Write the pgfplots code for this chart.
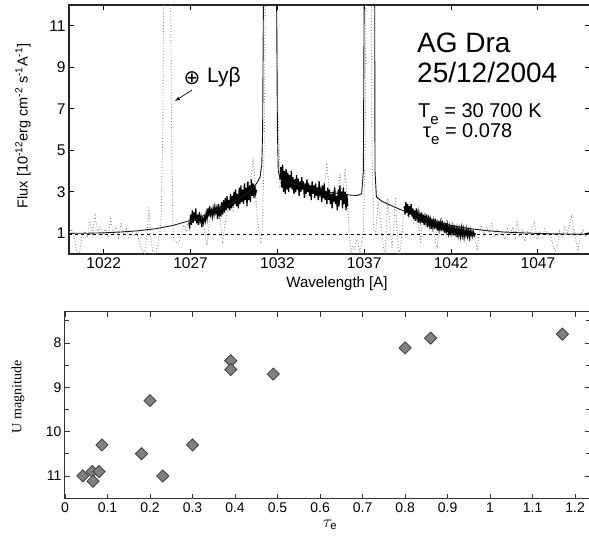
\documentclass[border=0pt]{standalone}
\usepackage{fontspec}
\setmainfont{Liberation Sans}
\newfontfamily\seriffont{Liberation Serif}
\newfontfamily\dejavu{DejaVu Sans}
\usepackage{pgfplots}
\pgfplotsset{compat=1.18}
\pgfplotstableread[row sep=\\]{
x y\\
1020.0 1.0\\ 1020.15 1.2\\ 1020.3 0.8\\ 1020.45 0.1\\ 1020.6 0.05\\ 1020.75 0.9\\ 1020.9 1.1\\ 1021.05 0.8\\ 1021.2 1.6\\ 1021.35 1.0\\
1021.5 1.85\\ 1021.65 1.1\\ 1021.8 1.3\\ 1021.95 0.9\\ 1022.1 1.2\\ 1022.25 0.8\\ 1022.4 1.7\\ 1022.55 1.0\\ 1022.7 1.3\\ 1022.85 0.8\\
1023.0 1.5\\ 1023.15 0.9\\ 1023.3 1.2\\ 1023.45 0.8\\ 1023.6 1.1\\ 1023.75 0.9\\ 1023.9 1.0\\ 1024.05 0.6\\ 1024.2 0.2\\ 1024.35 0.0\\
1024.5 0.9\\ 1024.6 2.25\\ 1024.7 0.8\\ 1024.85 0.0\\ 1025.0 0.0\\ 1025.15 0.6\\ 1025.3 1.5\\ 1025.4 6.0\\ 1025.45 13\\ 1025.85 13\\
1025.9 6\\ 1026.0 0.8\\ 1026.15 0.6\\ 1026.3 0.5\\ 1026.45 0.9\\ 1026.6 1.4\\ 1026.75 1.1\\ 1026.9 1.7\\ 1027.05 1.5\\ 1027.2 1.9\\
1027.35 1.4\\ 1027.5 2.0\\ 1027.65 1.6\\ 1027.8 1.2\\ 1027.95 0.4\\ 1028.1 1.6\\ 1028.25 2.1\\ 1028.4 1.9\\ 1028.55 2.3\\ 1028.7 1.7\\
1028.85 0.6\\ 1029.0 1.5\\ 1029.15 2.2\\ 1029.3 2.5\\ 1029.45 2.1\\ 1029.6 2.8\\ 1029.75 2.4\\ 1029.9 3.0\\ 1030.05 2.6\\ 1030.2 3.4\\
1030.35 2.9\\ 1030.5 3.9\\ 1030.6 4.6\\ 1030.7 3.5\\ 1030.8 2.2\\ 1030.9 1.3\\ 1031.0 0.8\\ 1031.05 0.6\\ 1031.15 1.5\\ 1031.25 6\\
1031.3 13\\ 1031.95 13\\ 1032.0 7.7\\ 1032.1 5.2\\ 1032.15 3.3\\ 1032.3 3.8\\ 1032.45 3.0\\ 1032.6 4.0\\ 1032.75 3.2\\ 1032.9 3.6\\
1033.05 2.9\\ 1033.2 3.7\\ 1033.35 3.1\\ 1033.5 3.5\\ 1033.65 2.8\\ 1033.8 3.4\\ 1033.95 2.7\\ 1034.1 3.3\\ 1034.25 2.9\\ 1034.4 3.5\\
1034.55 2.6\\ 1034.7 3.3\\ 1034.85 4.3\\ 1035.0 3.0\\ 1035.15 2.5\\ 1035.3 3.2\\ 1035.45 2.4\\ 1035.6 3.9\\ 1035.75 2.7\\ 1035.9 4.1\\
1036.05 2.3\\ 1036.15 0.8\\ 1036.25 0.1\\ 1036.35 0.4\\ 1036.45 0.2\\ 1036.55 0.7\\ 1036.65 0.5\\ 1036.75 0.1\\ 1036.85 0.6\\ 1036.95 1.2\\
1037.05 5\\ 1037.1 13\\ 1037.4 13\\ 1037.45 5\\ 1037.55 1.2\\ 1037.65 0.9\\ 1037.8 2.5\\ 1037.95 1.6\\ 1038.1 0.3\\ 1038.2 0.0\\
1038.35 2.7\\ 1038.5 1.2\\ 1038.6 0.3\\ 1038.7 1.4\\ 1038.8 2.75\\ 1038.9 1.0\\ 1039.0 0.0\\ 1039.1 0.3\\ 1039.25 1.8\\ 1039.4 2.3\\
1039.55 1.7\\ 1039.7 2.2\\ 1039.85 1.5\\ 1040.0 2.0\\ 1040.15 1.2\\ 1040.25 0.5\\ 1040.35 1.7\\ 1040.5 1.9\\ 1040.65 1.3\\ 1040.8 1.8\\
1040.95 1.2\\ 1041.1 0.6\\ 1041.2 0.25\\ 1041.3 1.4\\ 1041.45 1.7\\ 1041.6 1.1\\ 1041.75 1.6\\ 1041.9 1.0\\ 1042.05 1.5\\ 1042.2 0.9\\
1042.35 1.4\\ 1042.5 0.8\\ 1042.65 1.3\\ 1042.8 1.0\\ 1042.95 1.2\\ 1043.1 0.7\\ 1043.25 1.1\\ 1043.4 0.6\\ 1043.5 0.25\\ 1043.6 0.9\\
1043.75 1.4\\ 1043.9 0.9\\ 1044.05 1.3\\ 1044.2 1.0\\ 1044.35 1.5\\ 1044.5 0.8\\ 1044.65 1.2\\ 1044.8 0.9\\ 1044.95 1.1\\ 1045.1 0.7\\
1045.25 1.2\\ 1045.4 0.9\\ 1045.55 1.3\\ 1045.7 0.8\\ 1045.8 1.6\\ 1045.95 0.9\\ 1046.1 1.2\\ 1046.25 0.6\\ 1046.4 1.1\\ 1046.55 0.9\\
1046.7 1.3\\ 1046.8 1.6\\ 1046.95 0.7\\ 1047.1 1.1\\ 1047.25 0.8\\ 1047.4 1.2\\ 1047.55 0.9\\ 1047.7 1.0\\ 1047.85 0.5\\ 1048.0 0.15\\
1048.1 0.3\\ 1048.25 1.1\\ 1048.4 0.8\\ 1048.55 1.3\\ 1048.7 1.0\\ 1048.85 1.5\\ 1048.95 1.9\\ 1049.05 1.2\\ 1049.2 0.6\\ 1049.3 0.15\\
1049.45 0.9\\ 1049.6 1.2\\ 1049.75 0.8\\ 1049.9 1.1\\ 1050 0.9\\
}\observed
\pgfplotstableread[row sep=\\]{
x y\\
1026.90 1.5\\ 1026.95 1.3\\ 1027.00 1.9\\ 1027.05 1.4\\ 1027.10 2.1\\ 1027.15 1.5\\ 1027.20 2.0\\ 1027.25 1.6\\ 1027.30 2.2\\ 1027.35 1.5\\
1027.40 1.9\\ 1027.45 1.4\\ 1027.50 2.0\\ 1027.55 1.6\\ 1027.60 1.8\\ 1027.65 1.3\\ 1027.70 1.7\\ 1027.75 1.5\\ 1027.80 1.8\\ 1027.85 1.6\\
1027.90 2.0\\ 1027.95 1.7\\ 1028.00 2.2\\ 1028.05 1.8\\ 1028.10 2.3\\ 1028.15 1.9\\ 1028.20 2.1\\ 1028.25 1.8\\ 1028.30 2.2\\ 1028.35 1.9\\
1028.40 2.3\\ 1028.45 2.0\\ 1028.50 2.2\\ 1028.55 1.7\\ 1028.60 2.4\\ 1028.65 1.9\\ 1028.70 2.2\\ 1028.75 1.8\\ 1028.80 2.5\\ 1028.85 1.9\\
1028.90 2.6\\ 1028.95 2.0\\ 1029.00 2.7\\ 1029.05 2.1\\ 1029.10 2.8\\ 1029.15 2.2\\ 1029.20 2.6\\ 1029.25 2.1\\ 1029.30 2.9\\ 1029.35 2.2\\
1029.40 2.8\\ 1029.45 2.3\\ 1029.50 3.0\\ 1029.55 2.4\\ 1029.60 3.1\\ 1029.65 2.3\\ 1029.70 2.9\\ 1029.75 2.2\\ 1029.80 3.2\\ 1029.85 2.4\\
1029.90 3.3\\ 1029.95 2.5\\ 1030.00 3.1\\ 1030.05 2.4\\ 1030.10 3.4\\ 1030.15 2.6\\ 1030.20 3.2\\ 1030.25 2.3\\ 1030.30 3.5\\ 1030.35 2.6\\
1030.40 3.3\\ 1030.45 2.5\\ 1030.50 3.6\\ 1030.55 2.8\\ 1030.60 3.4\\ 1030.65 2.7\\ 1030.70 3.3\\ 1030.75 2.9\\ 1030.80 3.1\\
}\fitA
\pgfplotstableread[row sep=\\]{
x y\\
1032.15 3.6\\ 1032.20 4.2\\ 1032.25 3.2\\ 1032.30 4.3\\ 1032.35 3.0\\ 1032.40 4.0\\ 1032.45 2.9\\ 1032.50 4.1\\ 1032.55 3.1\\ 1032.60 3.9\\
1032.65 3.0\\ 1032.70 3.8\\ 1032.75 3.2\\ 1032.80 4.0\\ 1032.85 3.1\\ 1032.90 3.7\\ 1032.95 2.9\\ 1033.00 3.6\\ 1033.05 3.0\\ 1033.10 3.8\\
1033.15 3.1\\ 1033.20 3.6\\ 1033.25 2.8\\ 1033.30 3.5\\ 1033.35 3.0\\ 1033.40 3.7\\ 1033.45 3.1\\ 1033.50 3.5\\ 1033.55 2.7\\ 1033.60 3.4\\
1033.65 2.9\\ 1033.70 3.6\\ 1033.75 3.0\\ 1033.80 3.4\\ 1033.85 2.8\\ 1033.90 3.3\\ 1033.95 2.6\\ 1034.00 3.5\\ 1034.05 2.9\\ 1034.10 3.3\\
1034.15 2.7\\ 1034.20 3.4\\ 1034.25 2.8\\ 1034.30 3.2\\ 1034.35 2.6\\ 1034.40 3.5\\ 1034.45 2.9\\ 1034.50 3.1\\ 1034.55 2.5\\ 1034.60 3.3\\
1034.65 2.7\\ 1034.70 3.4\\ 1034.75 2.6\\ 1034.80 3.0\\ 1034.85 2.4\\ 1034.90 3.2\\ 1034.95 2.6\\ 1035.00 3.1\\ 1035.05 2.4\\ 1035.10 2.9\\
1035.15 2.2\\ 1035.20 3.0\\ 1035.25 2.5\\ 1035.30 3.2\\ 1035.35 2.4\\ 1035.40 2.8\\ 1035.45 2.1\\ 1035.50 3.1\\ 1035.55 2.3\\ 1035.60 3.3\\
1035.65 2.6\\ 1035.70 3.0\\ 1035.75 2.2\\ 1035.80 3.2\\ 1035.85 2.4\\ 1035.90 3.0\\ 1035.95 2.1\\ 1036.00 2.9\\ 1036.05 2.3\\
}\fitB
\pgfplotstableread[row sep=\\]{
x y\\
1039.30 2.3\\ 1039.35 1.9\\ 1039.40 2.5\\ 1039.45 2.0\\ 1039.50 2.4\\ 1039.55 1.8\\ 1039.60 2.3\\ 1039.65 1.9\\ 1039.70 2.4\\ 1039.75 1.8\\
1039.80 2.2\\ 1039.85 1.7\\ 1039.90 2.1\\ 1039.95 1.6\\ 1040.00 2.2\\ 1040.05 1.7\\ 1040.10 2.0\\ 1040.15 1.5\\ 1040.20 1.9\\ 1040.25 1.6\\
1040.30 2.0\\ 1040.35 1.5\\ 1040.40 1.9\\ 1040.45 1.4\\ 1040.50 1.8\\ 1040.55 1.5\\ 1040.60 1.9\\ 1040.65 1.3\\ 1040.70 1.7\\ 1040.75 1.4\\
1040.80 1.8\\ 1040.85 1.2\\ 1040.90 1.7\\ 1040.95 1.3\\ 1041.00 1.6\\ 1041.05 1.2\\ 1041.10 1.7\\ 1041.15 1.3\\ 1041.20 1.5\\ 1041.25 1.1\\
1041.30 1.6\\ 1041.35 1.2\\ 1041.40 1.5\\ 1041.45 1.1\\ 1041.50 1.6\\ 1041.55 1.2\\ 1041.60 1.4\\ 1041.65 1.0\\ 1041.70 1.5\\ 1041.75 1.1\\
1041.80 1.4\\ 1041.85 1.0\\ 1041.90 1.3\\ 1041.95 0.9\\ 1042.00 1.4\\ 1042.05 1.0\\ 1042.10 1.3\\ 1042.15 0.9\\ 1042.20 1.4\\ 1042.25 1.0\\
1042.30 1.2\\ 1042.35 0.8\\ 1042.40 1.3\\ 1042.45 0.9\\ 1042.50 1.2\\ 1042.55 0.85\\ 1042.60 1.25\\ 1042.65 0.9\\ 1042.70 1.2\\ 1042.75 0.8\\
1042.80 1.15\\ 1042.85 0.9\\ 1042.90 1.2\\ 1042.95 0.85\\ 1043.00 1.1\\ 1043.05 0.8\\ 1043.10 1.15\\ 1043.15 0.9\\ 1043.20 1.1\\ 1043.25 0.85\\
1043.30 1.05\\ 1043.35 0.9\\ 1043.40 1.0\\
}\fitC
\pgfplotstableread[row sep=\\]{
x y\\
1020 1.0\\ 1021 1.0\\ 1022 1.02\\ 1023 1.06\\ 1024 1.12\\ 1025 1.22\\ 1026 1.38\\ 1027 1.62\\ 1028 1.92\\ 1029 2.28\\
1029.5 2.5\\ 1030 2.78\\ 1030.5 3.1\\ 1030.8 3.4\\ 1031.0 3.7\\ 1031.1 4.3\\ 1031.15 6\\ 1031.2 13\\ 1031.95 13\\ 1032.0 6\\
1032.05 4.0\\ 1032.15 3.65\\ 1032.5 3.5\\ 1033 3.35\\ 1034 3.15\\ 1035 2.98\\ 1036 2.85\\ 1036.6 2.82\\ 1036.85 2.9\\ 1036.95 4\\
1037.0 13\\ 1037.6 13\\ 1037.62 4\\ 1037.7 2.75\\ 1038 2.55\\ 1038.5 2.35\\ 1039 2.17\\ 1039.5 2.0\\ 1040 1.85\\ 1041 1.58\\
1042 1.38\\ 1043 1.23\\ 1044 1.13\\ 1045 1.06\\ 1046 1.02\\ 1047 0.99\\ 1048 0.97\\ 1050 0.95\\
}\model
\pgfplotstableread[row sep=\\]{
tau U\\
0.042 11.0\\ 0.064 10.9\\ 0.066 11.12\\ 0.08 10.9\\ 0.087 10.3\\ 0.18 10.5\\ 0.20 9.3\\ 0.23 11.0\\ 0.30 10.3\\
0.39 8.4\\ 0.39 8.6\\ 0.49 8.7\\ 0.80 8.11\\ 0.86 7.89\\ 1.17 7.8\\
}\umag
\begin{document}
\begin{tikzpicture}
\useasboundingbox (0pt,0pt) rectangle (589pt,545pt);
\begin{axis}[
  at={(69pt,291pt)}, anchor=south west,
  scale only axis, width=521pt, height=249pt,
  xmin=1020, xmax=1050, ymin=0, ymax=12,
  xtick={1022,1027,1032,1037,1042,1047}, ytick={1,3,5,7,9,11},
  tick align=inside, major tick length=5pt,
  tick style={line width=1pt, black},
  axis line style={line width=1.3pt, black!85},
  ticklabel style={font=\fontsize{15.5}{15.5}\selectfont},
  /pgf/number format/assume math mode=true,
  /pgf/number format/1000 sep={},
]
\addplot[black!45, dotted, line width=0.9pt] table[x=x,y=y] {\observed};
\addplot[black, line width=1.2pt] table[x=x,y=y] {\fitA};
\addplot[black, line width=1.2pt] table[x=x,y=y] {\fitB};
\addplot[black, line width=1.2pt] table[x=x,y=y] {\fitC};
\addplot[black, dashed, line width=0.6pt] coordinates {(1020,0.95) (1050,0.95)};
\addplot[black!90, line width=0.9pt] table[x=x,y=y] {\model};
\end{axis}
\node[rotate=90] at (23pt,419pt) {\fontsize{14.5}{14.5}\selectfont Flux [10\textsuperscript{-12}erg cm\textsuperscript{-2} s\textsuperscript{-1}A\textsuperscript{-1}]};
\node at (337pt,261pt) {\fontsize{15}{15}\selectfont Wavelength [A]};
\node[anchor=base west, inner sep=0pt] at (417pt,492pt) {\fontsize{28}{28}\selectfont AG Dra};
\node[anchor=base west, inner sep=0pt] at (417pt,462pt) {\fontsize{28}{28}\selectfont 25/12/2004};
\node[anchor=base west, inner sep=0pt] at (418pt,427pt) {\fontsize{20}{20}\selectfont T\raisebox{-0.35em}{\fontsize{15}{15}\selectfont e} = 30 700 K};
\node[anchor=base west, inner sep=0pt] at (423pt,407pt) {\fontsize{20}{20}\selectfont τ\raisebox{-0.35em}{\fontsize{15}{15}\selectfont e} = 0.078};
\node at (192pt,467pt) {\dejavu\fontsize{20}{20}\selectfont ⊕};
\node[anchor=base west, inner sep=0pt] at (207pt,462pt) {\fontsize{21}{21}\selectfont Lyβ};
\draw[-latex, line width=0.7pt] (192pt,455pt) -- (175pt,444pt);
\begin{axis}[
  at={(65pt,46pt)}, anchor=south west,
  scale only axis, width=525pt, height=187pt,
  xmin=0, xmax=1.235, ymin=7.3, ymax=11.52, y dir=reverse,
  xtick={0,0.1,0.2,0.3,0.4,0.5,0.6,0.7,0.8,0.9,1,1.1,1.2},
  ytick={8,9,10,11}, minor ytick={7.5,8.5,9.5,10.5,11.5},
  tick align=inside, major tick length=5pt, minor tick length=4pt,
  tick style={line width=0.8pt, black!80},
  axis line style={line width=1pt, black!80},
  ticklabel style={font=\fontsize{14}{14}\selectfont},
  /pgf/number format/assume math mode=true,
]
\addplot[only marks, mark=square*, mark size=4.3pt,
  mark options={rotate=45, fill=black!50, draw=black!80, line width=0.7pt}]
  table[x=tau,y=U] {\umag};
\end{axis}
\node[rotate=90] at (18pt,148pt) {\seriffont\fontsize{14}{14}\selectfont U magnitude};
\node[inner sep=0pt] at (330pt,20pt) {\fontsize{16}{16}\selectfont $\tau_{\mathrm{e}}$};
\end{tikzpicture}
\end{document}
